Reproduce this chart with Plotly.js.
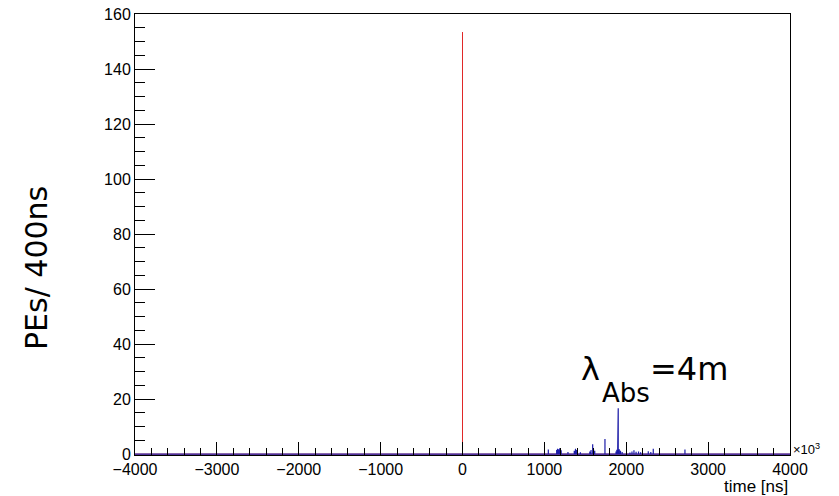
<!DOCTYPE html>
<html>
<head>
<meta charset="utf-8">
<script src="https://cdn.plot.ly/plotly-3.0.1.min.js"></script>
<style>html,body{margin:0;padding:0;background:#fff;}#chart{width:839px;height:496px;}</style>
</head>
<body>
<div id="chart"></div>
<script>
// time axis in units of 10^3 ns
const redX = [0];
const redY = [153.4];
const blueX = [1048, 1150, 1160, 1175, 1190, 1205, 1288, 1365, 1380, 1395, 1440, 1555, 1570, 1590, 1600, 1615, 1740, 1875, 1885, 1895, 1902, 1915, 1930, 1950, 2045, 2070, 2094, 2120, 2150, 2175, 2269, 2300, 2330, 2717];
const blueY = [1.7, 1.5, 2.0, 1.8, 2.2, 1.4, 0.8, 1.2, 2.0, 1.5, 0.7, 1.0, 1.5, 3.6, 1.8, 1.2, 5.5, 1.0, 1.6, 1.3, 16.7, 1.8, 1.2, 0.8, 0.6, 1.0, 1.4, 0.9, 1.0, 0.7, 1.1, 0.8, 2.0, 1.7];
const xTickVals = [-4000, -3000, -2000, -1000, 0, 1000, 2000, 3000, 4000];
const yTickVals = [0, 20, 40, 60, 80, 100, 120, 140, 160];
const xRange = [-4000, 4000];
const yRange = [0, 160];

function histLine(xs, ys) {
  const X = [xRange[0]], Y = [0];
  xs.forEach((x, i) => { X.push(x, x, x); Y.push(0, ys[i], 0); });
  X.push(xRange[1]); Y.push(0);
  return {x: X, y: Y};
}
const r = histLine(redX, redY);
const b = histLine(blueX, blueY);

const traces = [
  {type: 'scatter', mode: 'lines', x: r.x, y: r.y, line: {color: '#e02828', width: 1}, hoverinfo: 'skip'},
  {type: 'scatter', mode: 'lines', x: b.x, y: b.y, line: {color: '#1c1ca8', width: 1.2}, hoverinfo: 'skip'}
];

const tickFont = {family: 'Liberation Sans, Arial, sans-serif', size: 16, color: '#000'};
const L = 135, W = 655, B = 455, H = 441;
const px = v => (v - L) / W;
const py = v => (B - v) / H;
const layout = {
  width: 839, height: 496,
  margin: {l: 135, r: 49, t: 14, b: 41, pad: 0},
  paper_bgcolor: '#fff', plot_bgcolor: '#fff',
  showlegend: false,
  xaxis: {
    range: xRange, tickvals: xTickVals, ticks: 'inside', ticklen: 13, tickwidth: 1, tickcolor: '#000',
    showline: true, linecolor: '#000', linewidth: 1, mirror: true, showgrid: false, zeroline: false,
    minor: {dtick: 200, tick0: 0, ticks: 'inside', ticklen: 7, tickwidth: 1, tickcolor: '#000', showgrid: false},
    tickfont: tickFont, automargin: false, fixedrange: true
  },
  yaxis: {
    range: [yRange[0] - 0.3, yRange[1]], tickvals: yTickVals, ticks: 'inside', ticklen: 20, tickwidth: 1, tickcolor: '#000',
    showline: true, linecolor: '#000', linewidth: 1, mirror: true, showgrid: false, zeroline: false,
    minor: {dtick: 5, tick0: 0, ticks: 'inside', ticklen: 10, tickwidth: 1, tickcolor: '#000', showgrid: false},
    tickfont: tickFont, automargin: false, fixedrange: true
  },
  annotations: [
    {xref: 'paper', yref: 'paper', x: px(36), y: py(268), xanchor: 'center', yanchor: 'middle', textangle: -90,
     text: 'PEs/ 400ns', showarrow: false, font: {family: 'DejaVu Sans', size: 30, color: '#000'}},
    {xref: 'paper', yref: 'paper', x: px(579), y: py(369), xanchor: 'left', yanchor: 'middle',
     text: 'λ', showarrow: false, font: {family: 'DejaVu Sans', size: 32, color: '#000'}},
    {xref: 'paper', yref: 'paper', x: px(600), y: py(393), xanchor: 'left', yanchor: 'middle',
     text: 'Abs', showarrow: false, font: {family: 'DejaVu Sans', size: 26, color: '#000'}},
    {xref: 'paper', yref: 'paper', x: px(648), y: py(369), xanchor: 'left', yanchor: 'middle',
     text: '=4m', showarrow: false, font: {family: 'DejaVu Sans', size: 32, color: '#000'}},
    {xref: 'paper', yref: 'paper', x: 1, y: py(487), xanchor: 'right', yanchor: 'middle',
     text: 'time [ns]', showarrow: false, font: {family: 'Liberation Sans, Arial, sans-serif', size: 17, color: '#000'}},
    {xref: 'paper', yref: 'paper', x: px(791), y: py(449), xanchor: 'left', yanchor: 'middle',
     text: '×10<sup>3</sup>', showarrow: false, font: {family: 'Liberation Sans, Arial, sans-serif', size: 13, color: '#000'}}
  ]
};
Plotly.newPlot('chart', traces, layout, {displayModeBar: false, staticPlot: true});
</script>
</body>
</html>
